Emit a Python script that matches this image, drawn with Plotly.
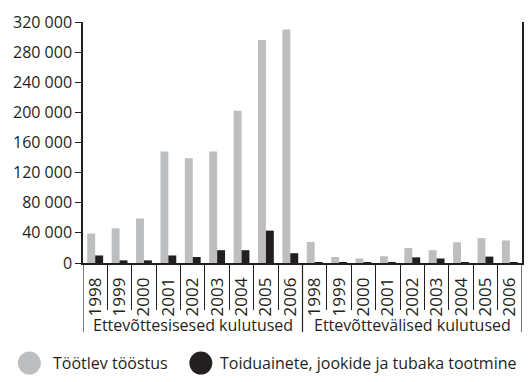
import plotly.graph_objects as go

# Years within each cost group
years = ["1998", "1999", "2000", "2001", "2002", "2003", "2004", "2005", "2006"]
groups = ["Ettevõttesisesed kulutused", "Ettevõttevälised kulutused"]
series_names = ["Töötlev tööstus", "Toiduainete, jookide ja tubaka tootmine"]

# Töötlev tööstus: in-house then external expenditure
manufacturing_in = [39000, 46000, 59000, 148000, 139000, 148000, 202000, 296000, 310000]
manufacturing_ext = [28000, 8000, 6000, 9000, 20000, 17000, 27500, 33000, 30000]

# Toiduainete, jookide ja tubaka tootmine
food_in = [10000, 3500, 3500, 10000, 8000, 17000, 17000, 43000, 13000]
food_ext = [800, 400, 500, 500, 7500, 6000, 600, 8500, 600]

y_ticks = [0, 40000, 80000, 120000, 160000, 200000, 240000, 280000, 320000]

GREY = "#bcbec0"
DARK = "#231f20"
FONT = "Open Sans"

labels = years + years
xs = list(range(len(labels)))

fig = go.Figure()
fig.add_trace(go.Bar(x=xs, y=manufacturing_in + manufacturing_ext, name=series_names[0],
                     marker=dict(color=GREY, line=dict(width=0)), showlegend=False))
fig.add_trace(go.Bar(x=xs, y=food_in + food_ext, name=series_names[1],
                     marker=dict(color=DARK, line=dict(width=0)), showlegend=False))

n = len(labels)
boundaries = [i + 0.5 for i in range(n - 1) if i + 1 != len(years)]

fig.update_layout(
    width=532, height=382,
    margin=dict(l=82.5, r=8, t=22, b=119),
    paper_bgcolor="white", plot_bgcolor="white",
    barmode="group", bargap=0.35, bargroupgap=0,
    separators=", ",
    font=dict(family=FONT, size=16, color=DARK),
    xaxis=dict(
        range=[-0.5, n - 0.5], tickvals=xs, ticktext=labels, tickangle=-90,
        ticks="", showline=True, linecolor=DARK, linewidth=1.5,
        showgrid=False, zeroline=False, ticklabelstandoff=6,
        tickfont=dict(family=FONT, size=17, color=DARK),
        minor=dict(tickvals=boundaries, ticks="outside", ticklen=45,
                   tickcolor=DARK, tickwidth=1, showgrid=False),
    ),
    yaxis=dict(
        range=[0, 320000], tickvals=y_ticks, tickformat=",d",
        ticks="outside", ticklen=6, tickcolor=DARK, tickwidth=1.2,
        showline=True, linecolor=DARK, linewidth=1.5, mirror=True,
        showgrid=False, zeroline=False,
        tickfont=dict(family=FONT, size=16, color=DARK),
    ),
)

# Long dividers framing the two cost groups under the axis
for xv in [-0.5, len(years) - 0.5, n - 0.5]:
    fig.add_shape(type="line", xref="x", yref="paper", x0=xv, x1=xv, y0=0, y1=-0.286,
                  line=dict(color=DARK, width=1.2))

# Group captions
for gi, g in enumerate(groups):
    fig.add_annotation(x=gi * len(years) + (len(years) - 1) / 2, xref="x",
                       y=-0.257, yref="paper", text=g, showarrow=False,
                       yanchor="middle", xanchor="center",
                       font=dict(family=FONT, size=16, color=DARK))

# Legend drawn with round swatches
legend_items = [(series_names[0], GREY, -0.1222, -0.0736), (series_names[1], DARK, 0.2684, 0.307)]
for name, color, cx, tx in legend_items:
    fig.add_shape(type="circle", xref="paper", yref="paper",
                  xsizemode="pixel", ysizemode="pixel", xanchor=cx, yanchor=-0.415,
                  x0=-11.5, x1=11.5, y0=-11.5, y1=11.5,
                  fillcolor=color, line=dict(width=0))
    fig.add_annotation(x=tx, xref="paper", y=-0.415, yref="paper", text=name,
                       showarrow=False, xanchor="left", yanchor="middle",
                       font=dict(family=FONT, size=16, color=DARK))

fig.write_html("out.html")
